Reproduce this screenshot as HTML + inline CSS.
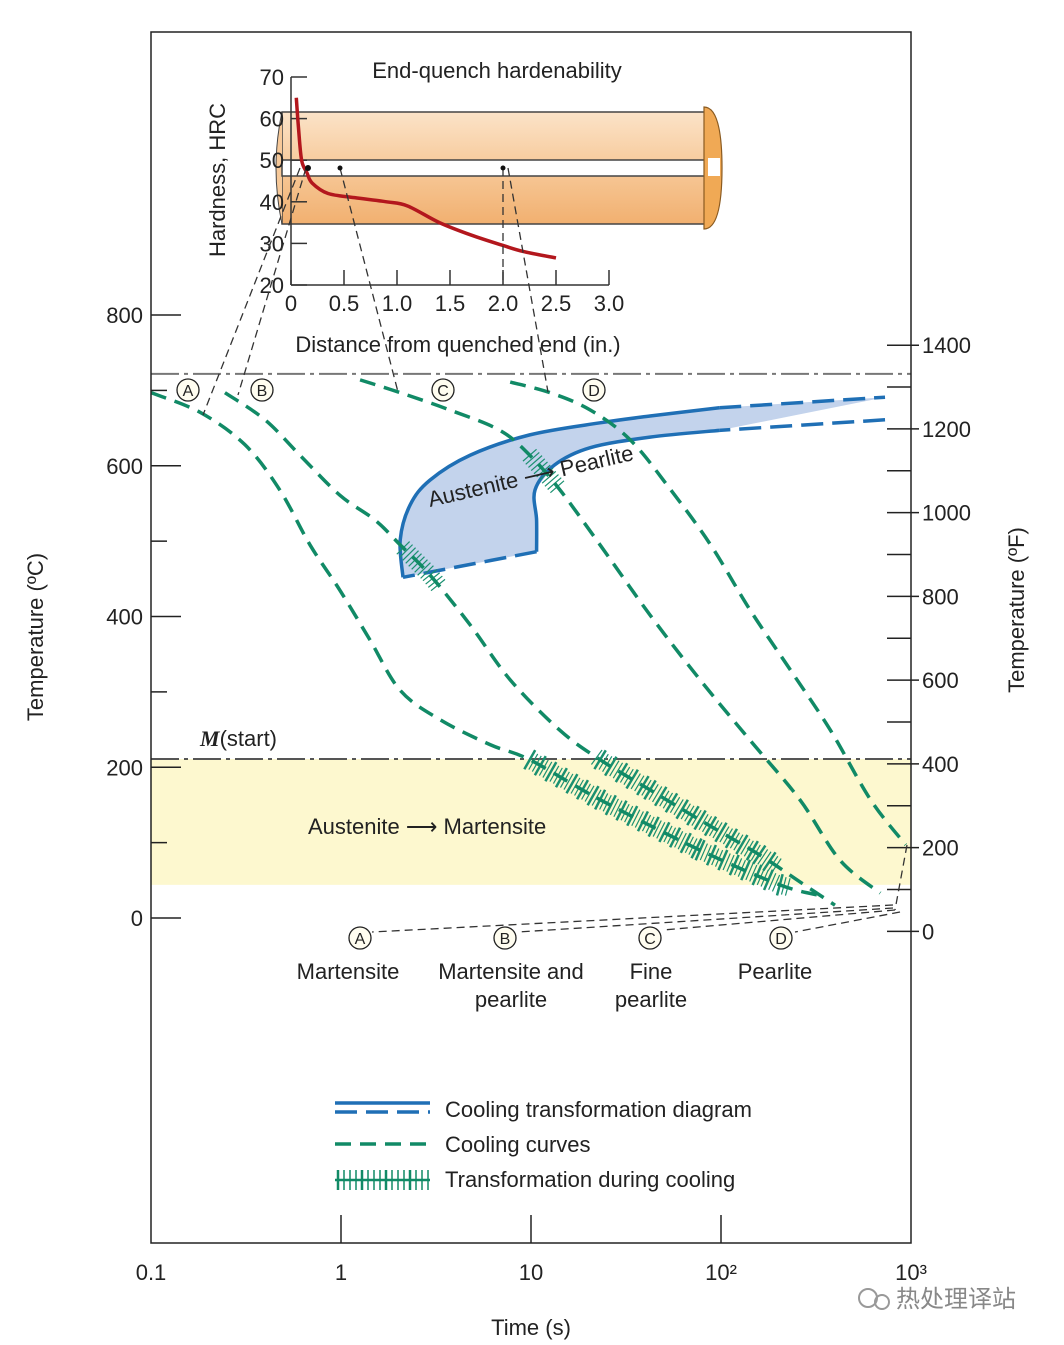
<!DOCTYPE html>
<html><head><meta charset="utf-8"><style>
html,body{margin:0;padding:0;background:#fff}
svg{display:block;font-family:"Liberation Sans","Noto Sans CJK SC",sans-serif}
</style></head><body>
<svg id="chart" width="1064" height="1345" viewBox="0 0 1064 1345" xmlns="http://www.w3.org/2000/svg">
<defs>
<linearGradient id="cyl" x1="0" y1="0" x2="0" y2="1">
<stop offset="0" stop-color="#fbe3c8"/><stop offset="0.5" stop-color="#f7c999"/><stop offset="1" stop-color="#f1b070"/>
</linearGradient>
</defs>
<g id="layer"></g>
</svg>
<script>
// ---- data ----
const tempTicksC = [0, 200, 400, 600, 800];
const tempTicksF = [0, 200, 400, 600, 800, 1000, 1200, 1400];
const timeTicks = [0.1, 1, 10, 100, 1000];
const timeTickLabels = ["0.1", "1", "10", "10²", "10³"];
const curveA_t = [0.1,0.181,0.312,0.476,0.687,0.986,1.42,2.05,3.33,6.09,9.85,23.1,77.6,204,330];
const curveA_T = [697,671,628,568,495,435,369,302,263,230,210,157,90,44,30];
const curveB_t = [0.245,0.398,0.608,0.986,1.51,2.05,2.94,4.78,7.77,14.2,23.1,42.3,77.6,159,260,398];
const curveB_T = [697,661,614,561,528,495,455,389,316,249,210,170,130,84,48,17];
const curveC_t = [1.26,2.05,3.74,6.86,9.85,14.2,23.1,42.3,77.6,142,260,422,689];
const curveC_T = [714,697,674,647,614,568,495,402,316,236,157,77,33];
const curveD_t = [7.77,12.6,20.5,33.4,54.4,88.2,142,232,377,612,938];
const curveD_T = [711,697,674,634,568,495,409,329,249,157,97];
const ctOuter_t = [2.12,2.05,2.31,2.94,4.78,9.85,23.1,42.3,98];
const ctOuter_T = [452,502,548,581,614,641,657,666,677];
const ctOuterDash_t = [98,730];
const ctOuterDash_T = [677,691];
const ctInner_t = [98,42.3,20.5,13.3,10.5,10.7,10.7];
const ctInner_T = [647,638,624,601,568,528,486];
const ctInnerDash_t = [730,98];
const ctInnerDash_T = [661,647];
const ctBottom_t = [10.7,3.75,2.12];
const ctBottom_T = [486,464,452];
const hardDist = [0.05,0.07,0.1,0.15,0.2,0.35,0.6,0.9,1.1,1.4,1.7,2.0,2.2,2.5];
const hardHRC = [65,58,50,47,44.5,42,41,40,39,35,32,29.5,28,26.5];
const hardTicks = [20,30,40,50,60,70];
const distTicks = [0,0.5,1.0,1.5,2.0,2.5,3.0];
const msTemp = 211, msEnd = 44, upperTemp = 722;

// ---- axes ----
const L=151,R=911,T0=32,B=1243;
const xT = t => L + 190*Math.log10(t/0.1);
const yC = c => 918 - 0.7537*c;
const yF = f => yC((f-32)*5/9);
const xD = d => 291 + 106*d;
const yH = h => 285 - 4.16*(h-20);

const NS="http://www.w3.org/2000/svg";
const layer=document.getElementById('layer');
function mk(tag, attrs, parent){const e=document.createElementNS(NS,tag);for(const k in attrs)e.setAttribute(k,attrs[k]);(parent||layer).appendChild(e);return e;}
function pts(ts,Ts){return ts.map((t,i)=>[xT(t),yC(Ts[i])]);}
function smooth(p){let d="M"+p[0][0]+","+p[0][1];for(let i=0;i<p.length-1;i++){const p0=p[i-1]||p[i],p1=p[i],p2=p[i+1],p3=p[i+2]||p2;const c1=[p1[0]+(p2[0]-p0[0])/6,p1[1]+(p2[1]-p0[1])/6],c2=[p2[0]-(p3[0]-p1[0])/6,p2[1]-(p3[1]-p1[1])/6];d+=` C${c1[0]},${c1[1]} ${c2[0]},${c2[1]} ${p2[0]},${p2[1]}`;}return d;}
function txt(x,y,s,attrs){const e=mk('text',Object.assign({x:x,y:y,'font-size':22,fill:'#222'},attrs||{}));e.textContent=s;return e;}

let e=mk('rect',{x:L,y:yC(msTemp),width:R-L,height:yC(msEnd)-yC(msTemp),fill:'#fdf8cf'});


e=mk('line',{x1:L,x2:R,y1:yC(msTemp),y2:yC(msTemp),stroke:'#555','stroke-width':2,'stroke-dasharray':'28 5 4 5'});

e=mk('line',{x1:L,x2:R,y1:yC(upperTemp),y2:yC(upperTemp),stroke:'#777','stroke-width':2,'stroke-dasharray':'28 5 4 5'});


const op=pts(ctOuter_t,ctOuter_T),od=pts(ctOuterDash_t,ctOuterDash_T),ip=pts(ctInner_t,ctInner_T),idd=pts(ctInnerDash_t,ctInnerDash_T),bp=pts(ctBottom_t,ctBottom_T);
const fillPts=[...op,...od.slice(1),...idd.slice(1),...ip,...bp.slice(1)];
e=mk('polygon',{points:fillPts.map(p=>p.join(',')).join(' '),fill:'#c3d3ec'});

e=mk('path',{d:smooth(op),fill:'none',stroke:'#1f6fb5','stroke-width':3.5});

e=mk('path',{d:smooth(ip),fill:'none',stroke:'#1f6fb5','stroke-width':3.5});

[od,idd,bp].forEach((p,i)=>{e=mk('path',{d:smooth(p),fill:'none',stroke:'#1f6fb5','stroke-width':3.5,'stroke-dasharray':'22 9'});
});

function hatch(p,x0,x1,dense,name){const g=mk('g',{});
 for(let i=0;i<p.length-1;i++){const a=p[i],b=p[i+1];const dx=b[0]-a[0],dy=b[1]-a[1],len=Math.hypot(dx,dy);const n=Math.max(1,Math.floor(len/4));
  for(let k=0;k<n;k++){const x=a[0]+dx*k/n,y=a[1]+dy*k/n;if(x<x0||x>x1)continue;const nx=-dy/len,ny=dx/len;const h=(dense&&k%3===0)?11:9;const sw=(dense&&k%3===0)?2.5:1.2;
   mk('line',{x1:x-nx*h,y1:y-ny*h,x2:x+nx*h,y2:y+ny*h,stroke:'#1a9070','stroke-width':sw},g);}}}

const curves=[[curveA_t,curveA_T,'cooling-curve-a'],[curveB_t,curveB_T,'cooling-curve-b'],[curveC_t,curveC_T,'cooling-curve-c'],[curveD_t,curveD_T,'cooling-curve-d']];
const cp=curves.map(c=>pts(c[0],c[1]));
hatch(cp[0],xT(9.5),xT(230),true,'hatch-a-martensite');
hatch(cp[1],xT(22),xT(200),true,'hatch-b-martensite');
hatch(cp[1],xT(2.1),xT(3.3),false,'hatch-b-pearlite');
hatch(cp[2],xT(9.5),xT(14),false,'hatch-c-pearlite');
curves.forEach((c,i)=>{e=mk('path',{d:smooth(cp[i]),fill:'none',stroke:'#118a66','stroke-width':3.5,'stroke-dasharray':'16 9'});
 });

e=mk('rect',{x:L,y:T0,width:R-L,height:B-T0,fill:'none',stroke:'#222','stroke-width':1.5});


for(let c=0;c<=800;c+=100){const major=c%200===0;mk('line',{x1:L,x2:L+(major?30:16),y1:yC(c),y2:yC(c),stroke:'#222','stroke-width':1.5});}
tempTicksC.forEach(c=>{e=txt(143,yC(c)+8,String(c),{'text-anchor':'end'});});
e=txt(0,0,'Temperature (ºC)',{transform:'translate(43,637) rotate(-90)','text-anchor':'middle'});

for(let f=0;f<=1400;f+=100){const major=f%200===0;mk('line',{x1:R-24,x2:R+(major?8:0),y1:yF(f),y2:yF(f),stroke:'#222','stroke-width':1.5});}
tempTicksF.forEach(f=>{e=txt(922,yF(f)+8,String(f));});
e=txt(0,0,'Temperature (ºF)',{transform:'translate(1024,610) rotate(-90)','text-anchor':'middle'});

timeTicks.forEach((t,i)=>{if(i>0&&i<4)mk('line',{x1:xT(t),x2:xT(t),y1:B,y2:B-28,stroke:'#222','stroke-width':1.5});
 e=txt(xT(t),1280,timeTickLabels[i],{'text-anchor':'middle'});});
e=txt(xT(10),1335,'Time (s)',{'text-anchor':'middle'});

const ig=mk('g',{});
mk('rect',{x:282,y:112,width:425,height:112,fill:'url(#cyl)',stroke:'#444','stroke-width':1.5},ig);
mk('path',{d:'M282,112 Q270,168 282,224',fill:'#f7c999',stroke:'#444','stroke-width':1},ig);
mk('rect',{x:282,y:160,width:425,height:16,fill:'#fff',stroke:'#444','stroke-width':1.5},ig);
mk('path',{d:'M704,107 Q722,107 722,168 Q722,229 704,229 Z',fill:'#f0a955',stroke:'#8a5a20','stroke-width':1.2},ig);
mk('rect',{x:708,y:158,width:12,height:18,fill:'#fff'},ig);
mk('line',{x1:291,x2:291,y1:77,y2:285,stroke:'#333','stroke-width':1.5},ig);
mk('line',{x1:291,x2:609,y1:285,y2:285,stroke:'#333','stroke-width':1.5},ig);
hardTicks.forEach(h=>{mk('line',{x1:291,x2:307,y1:yH(h),y2:yH(h),stroke:'#333','stroke-width':1.5},ig);
 e=txt(284,yH(h)+8,String(h),{'text-anchor':'end'});});
distTicks.forEach(d=>{mk('line',{x1:xD(d),x2:xD(d),y1:285,y2:270,stroke:'#333','stroke-width':1.5},ig);
 e=txt(xD(d),311,d===0?'0':d.toFixed(1),{'text-anchor':'middle'});});
e=mk('path',{d:smooth(hardDist.map((d,i)=>[xD(d),yH(hardHRC[i])])),fill:'none',stroke:'#b3171d','stroke-width':3.5});

e=txt(497,78,'End-quench hardenability',{'text-anchor':'middle'});
e=txt(458,352,'Distance from quenched end (in.)',{'text-anchor':'middle'});
e=txt(0,0,'Hardness, HRC',{transform:'translate(225,180) rotate(-90)','text-anchor':'middle'});

const arrows=[[300,168,203,415],[306,168,238,395],[340,168,398,392],[508,168,548,392],[503,168,503,285],
 [893,905,372,932],[893,908,518,932],[895,910,663,930],[900,912,795,932],[907,845,895,910]];
arrows.forEach(a=>{e=mk('line',{x1:a[0],y1:a[1],x2:a[2],y2:a[3],stroke:'#333','stroke-width':1.3,'stroke-dasharray':'8 5'});
 });
mk('circle',{cx:308,cy:168,r:3,fill:'#111'});mk('circle',{cx:340,cy:168,r:2.5,fill:'#111'});mk('circle',{cx:503,cy:168,r:2.5,fill:'#111'});

const circ=[[188,390,'A'],[262,390,'B'],[443,390,'C'],[594,390,'D'],[360,938,'A'],[505,938,'B'],[650,938,'C'],[781,938,'D']];
circ.forEach(c=>{const g=mk('g',{});
 mk('circle',{cx:c[0],cy:c[1],r:11,fill:'#fffdf0',stroke:'#222','stroke-width':1.3},g);
 const t=mk('text',{x:c[0],y:c[1]+6,'font-size':16,'text-anchor':'middle',fill:'#222'},g);t.textContent=c[2];});

const labs=[[348,979,'Martensite'],[511,979,'Martensite and'],[511,1007,'pearlite'],[651,979,'Fine'],[651,1007,'pearlite'],[775,979,'Pearlite']];
labs.forEach(l=>{e=txt(l[0],l[1],l[2],{'text-anchor':'middle'});});
e=txt(308,834,'Austenite ⟶ Martensite');
e=txt(0,0,'Austenite ⟶ Pearlite',{transform:'translate(430,507) rotate(-13)'});
e=mk('text',{x:200,y:746,'font-size':22,fill:'#222'});e.innerHTML='<tspan font-family="Liberation Serif" font-style="italic" font-weight="bold">M</tspan>(start)';


const lg=mk('g',{});
mk('line',{x1:335,x2:430,y1:1103,y2:1103,stroke:'#1f6fb5','stroke-width':3.5},lg);
mk('line',{x1:335,x2:430,y1:1112,y2:1112,stroke:'#1f6fb5','stroke-width':3.5,'stroke-dasharray':'22 9'},lg);
mk('line',{x1:335,x2:430,y1:1144,y2:1144,stroke:'#118a66','stroke-width':3.5,'stroke-dasharray':'16 9'},lg);
mk('line',{x1:335,x2:430,y1:1180,y2:1180,stroke:'#118a66','stroke-width':2.5},lg);
for(let x=338;x<=428;x+=6){mk('line',{x1:x,x2:x,y1:1170,y2:1190,stroke:'#118a66','stroke-width':(x-338)%24===0?2.5:1.5},lg);}
[[1117,'Cooling transformation diagram'],[1152,'Cooling curves'],[1187,'Transformation during cooling']].forEach(r=>{const t=txt(445,r[0],r[1],{},lg);lg.appendChild(t);});

e=mk('g',{});
mk('circle',{cx:868,cy:1298,r:9,fill:'none',stroke:'#999','stroke-width':2},e);
mk('circle',{cx:882,cy:1302,r:7,fill:'none',stroke:'#999','stroke-width':2},e);
const w=mk('text',{x:896,y:1307,'font-size':24,fill:'#888'},e);w.textContent='热处理译站';
</script>
</body></html>
